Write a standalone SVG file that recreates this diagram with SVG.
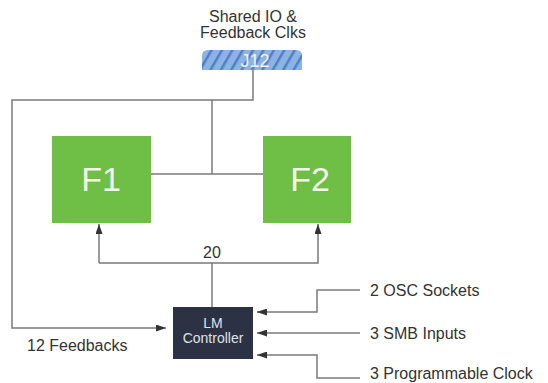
<svg xmlns="http://www.w3.org/2000/svg" width="548" height="383" viewBox="0 0 548 383">
<style>
.ln{fill:none;stroke:#7a7a7a;stroke-width:1.5}
.lbl{font-family:"Liberation Sans",Arial,sans-serif;font-size:16px;fill:#333}
.fb{fill:#6fbe45}
.ft{font-family:"Liberation Sans",Arial,sans-serif;font-size:34px;fill:#f4f8ee;text-anchor:middle}
.ct{font-family:"Liberation Sans",Arial,sans-serif;font-size:14px;fill:#dfe3ea;text-anchor:middle}
</style>
<defs>
<pattern id="hatch" width="9" height="9" patternUnits="userSpaceOnUse" patternTransform="rotate(30)">
<rect width="9" height="9" fill="#8db3e2"/>
<rect width="2.5" height="9" fill="#4f7fc6"/>
</pattern>
<marker id="ah" markerWidth="10" markerHeight="7" refX="10" refY="3.5" orient="auto" markerUnits="userSpaceOnUse">
<path d="M0,0 L10,3.5 L0,7 Z" fill="#333"/>
</marker>
</defs>
<g id="connectors">
<polyline class="ln" points="253,70 253,100 12,100 12,328 166,328" marker-end="url(#ah)"/>
<line class="ln" x1="212" y1="100" x2="212" y2="174"/>
<line class="ln" x1="151" y1="174" x2="263" y2="174"/>
<line class="ln" x1="212" y1="263" x2="212" y2="307"/>
<polyline class="ln" points="99,263 99,224" marker-end="url(#ah)"/>
<polyline class="ln" points="99,263 318,263 318,224" marker-end="url(#ah)"/>
<polyline class="ln" points="360,290 317,290 317,312 257,312" marker-end="url(#ah)"/>
<polyline class="ln" points="360,333 257,333" marker-end="url(#ah)"/>
<polyline class="ln" points="360,378 317,378 317,355 257,355" marker-end="url(#ah)"/>
<text class="lbl" x="212" y="258" text-anchor="middle" font-size="15">20</text>
</g>
<g id="j12">
<text class="lbl" x="253" y="22" text-anchor="middle">Shared IO &amp;</text>
<text class="lbl" x="253" y="38" text-anchor="middle">Feedback Clks</text>
<path d="M202,70 L202,56 Q202,50 208,50 L296,50 Q302,50 302,56 L302,70 Z" fill="url(#hatch)"/>
<text x="255" y="67" font-family="Liberation Sans,Arial,sans-serif" font-size="18" fill="#eef3fb" text-anchor="middle">J12</text>
</g>
<g id="f1">
<rect class="fb" x="52" y="136" width="99" height="87"/>
<text class="ft" x="101" y="191">F1</text>
</g>
<g id="f2">
<rect class="fb" x="263" y="136" width="88" height="87"/>
<text class="ft" x="310" y="191">F2</text>
</g>
<g id="lm">
<rect x="173" y="307" width="80" height="52" fill="#2c3243"/>
<text class="ct" x="213" y="328">LM</text>
<text class="ct" x="213" y="343">Controller</text>
</g>
<g id="labels">
<text class="lbl" x="27" y="351">12 Feedbacks</text>
<text class="lbl" x="370" y="296">2 OSC Sockets</text>
<text class="lbl" x="370" y="339">3 SMB Inputs</text>
<text class="lbl" x="370" y="379">3 Programmable Clock</text>
</g>
</svg>
